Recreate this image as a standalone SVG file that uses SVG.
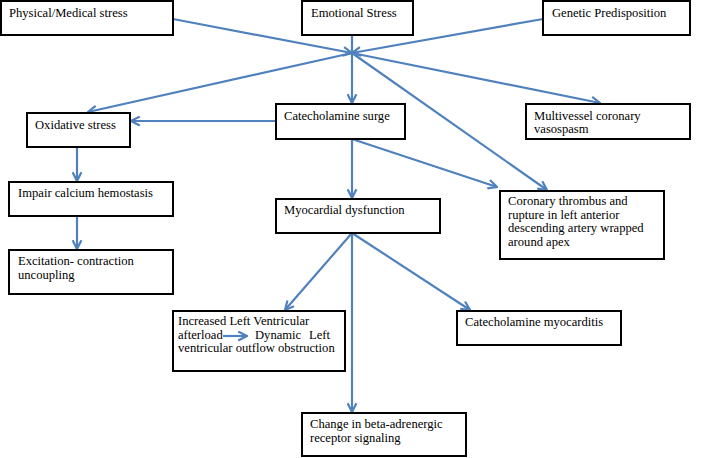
<svg xmlns="http://www.w3.org/2000/svg" width="709" height="458" viewBox="0 0 709 458">
<style>
.box{fill:#fff;stroke:#000;stroke-width:2}
text{font-family:"Liberation Serif","Times New Roman",serif;font-size:12.6px;fill:#000}
.c{stroke:#4f81bd;stroke-width:2.2;fill:none}
</style>
<defs>
<marker id="ah" viewBox="0 0 10 10" refX="9" refY="5" markerWidth="5" markerHeight="5" orient="auto" markerUnits="strokeWidth">
<path d="M1,1 L9,5 L1,9" fill="none" stroke="#4f81bd" stroke-width="2"/>
</marker>
</defs>
<rect width="709" height="458" fill="#fff"/>
<g id="connectors">
<line class="c" x1="173" y1="19" x2="352" y2="53" marker-end="url(#ah)"/>
<line class="c" x1="543" y1="19" x2="352" y2="53" marker-end="url(#ah)"/>
<line class="c" x1="352" y1="35" x2="352" y2="103" marker-end="url(#ah)"/>
<line class="c" x1="352" y1="53" x2="88" y2="112" marker-end="url(#ah)"/>
<line class="c" x1="352" y1="53" x2="600" y2="103" marker-end="url(#ah)"/>
<line class="c" x1="352" y1="53" x2="547" y2="190" marker-end="url(#ah)"/>
<line class="c" x1="276" y1="121" x2="131" y2="121" marker-end="url(#ah)"/>
<line class="c" x1="352" y1="139" x2="352" y2="198" marker-end="url(#ah)"/>
<line class="c" x1="352" y1="139" x2="497" y2="187" marker-end="url(#ah)"/>
<line class="c" x1="77" y1="147" x2="77" y2="181" marker-end="url(#ah)"/>
<line class="c" x1="77" y1="216" x2="77" y2="249" marker-end="url(#ah)"/>
<line class="c" x1="352" y1="233" x2="285" y2="310" marker-end="url(#ah)"/>
<line class="c" x1="352" y1="233" x2="470" y2="310" marker-end="url(#ah)"/>
<line class="c" x1="352" y1="233" x2="352" y2="412" marker-end="url(#ah)"/>
</g>
<g id="physical"><rect class="box" x="1" y="1" width="172" height="34"/><text x="9" y="17">Physical/Medical stress</text></g>
<g id="emotional"><rect class="box" x="302" y="1" width="111" height="34"/><text x="311" y="17">Emotional Stress</text></g>
<g id="genetic"><rect class="box" x="543" y="1" width="147" height="34"/><text x="552" y="17">Genetic Predisposition</text></g>
<g id="oxidative"><rect class="box" x="27" y="113" width="103" height="34"/><text x="35" y="129">Oxidative stress</text></g>
<g id="catecholamine"><rect class="box" x="276" y="104" width="129" height="35"/><text x="284" y="120">Catecholamine surge</text></g>
<g id="multivessel"><rect class="box" x="526" y="104" width="164" height="35"/><text x="534" y="120">Multivessel coronary</text><text x="534" y="133">vasospasm</text></g>
<g id="impair"><rect class="box" x="9" y="182" width="164" height="34"/><text x="18" y="197">Impair calcium hemostasis</text></g>
<g id="excitation"><rect class="box" x="9" y="250" width="164" height="44"/><text x="18" y="265">Excitation- contraction</text><text x="18" y="279">uncoupling</text></g>
<g id="myocardial"><rect class="box" x="276" y="199" width="164" height="34"/><text x="284" y="214">Myocardial dysfunction</text></g>
<g id="thrombus"><rect class="box" x="500" y="191" width="164" height="68"/><text x="508" y="205">Coronary thrombus and</text><text x="508" y="219">rupture in left anterior</text><text x="508" y="232">descending artery wrapped</text><text x="508" y="246">around apex</text></g>
<g id="increasedLV"><rect class="box" x="173" y="311" width="172" height="60"/><text x="178" y="325">Increased Left Ventricular</text><text x="178" y="339">afterload</text><line class="c" x1="223" y1="336" x2="247" y2="336" marker-end="url(#ah)"/><text x="255" y="339">Dynamic</text><text x="309" y="339">Left</text><text x="178" y="352">ventricular outflow obstruction</text></g>
<g id="myocarditis"><rect class="box" x="457" y="311" width="164" height="34"/><text x="465" y="326">Catecholamine myocarditis</text></g>
<g id="beta"><rect class="box" x="302" y="413" width="164" height="43"/><text x="310" y="428">Change in beta-adrenergic</text><text x="310" y="442">receptor signaling</text></g>
</svg>
